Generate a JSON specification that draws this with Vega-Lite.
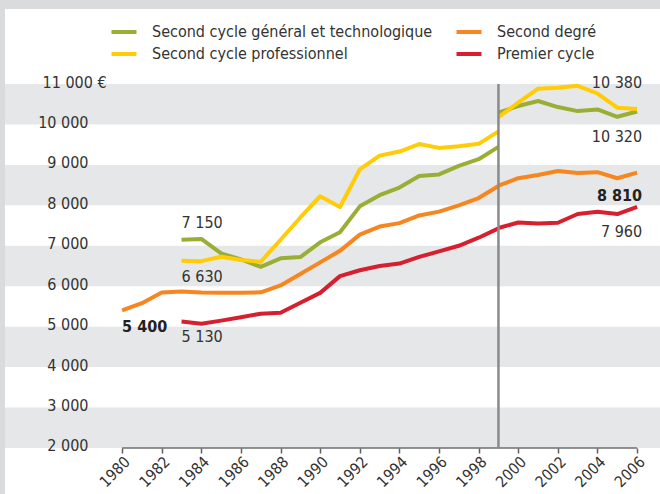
{
  "$schema": "https://vega.github.io/schema/vega-lite/v6.json",
  "autosize": {"type": "none"},
  "width": 655,
  "height": 485,
  "padding": {"left": 5, "top": 9, "right": 0, "bottom": 0},
  "background": "#dadbdd",
  "view": {"fill": "#ffffff", "stroke": null},
  "config": {
    "font": "Liberation Sans Narrow, DejaVu Sans Condensed, Roboto Condensed, Roboto, sans-serif",
    "text": {"font": "Liberation Sans Narrow, DejaVu Sans Condensed, Roboto Condensed, Roboto, sans-serif", "fontSize": 16, "color": "#333333"}
  },
  "datasets": {
    "bandes": [
      {"bas": 10000, "haut": 11000},
      {"bas": 8000, "haut": 9000},
      {"bas": 6000, "haut": 7000},
      {"bas": 4000, "haut": 5000},
      {"bas": 2000, "haut": 3000}
    ],
    "series": [
      {"serie": "Second cycle général et technologique", "periode": "avant", "annee": 1983, "valeur": 7150},
      {"serie": "Second cycle général et technologique", "periode": "avant", "annee": 1984, "valeur": 7170},
      {"serie": "Second cycle général et technologique", "periode": "avant", "annee": 1985, "valeur": 6810},
      {"serie": "Second cycle général et technologique", "periode": "avant", "annee": 1986, "valeur": 6665},
      {"serie": "Second cycle général et technologique", "periode": "avant", "annee": 1987, "valeur": 6480},
      {"serie": "Second cycle général et technologique", "periode": "avant", "annee": 1988, "valeur": 6690},
      {"serie": "Second cycle général et technologique", "periode": "avant", "annee": 1989, "valeur": 6720},
      {"serie": "Second cycle général et technologique", "periode": "avant", "annee": 1990, "valeur": 7085},
      {"serie": "Second cycle général et technologique", "periode": "avant", "annee": 1991, "valeur": 7335},
      {"serie": "Second cycle général et technologique", "periode": "avant", "annee": 1992, "valeur": 7975},
      {"serie": "Second cycle général et technologique", "periode": "avant", "annee": 1993, "valeur": 8250},
      {"serie": "Second cycle général et technologique", "periode": "avant", "annee": 1994, "valeur": 8440},
      {"serie": "Second cycle général et technologique", "periode": "avant", "annee": 1995, "valeur": 8725},
      {"serie": "Second cycle général et technologique", "periode": "avant", "annee": 1996, "valeur": 8765},
      {"serie": "Second cycle général et technologique", "periode": "avant", "annee": 1997, "valeur": 8975},
      {"serie": "Second cycle général et technologique", "periode": "avant", "annee": 1998, "valeur": 9140},
      {"serie": "Second cycle général et technologique", "periode": "avant", "annee": 1999, "valeur": 9445},
      {"serie": "Second cycle général et technologique", "periode": "apres", "annee": 1999, "valeur": 10290},
      {"serie": "Second cycle général et technologique", "periode": "apres", "annee": 2000, "valeur": 10455},
      {"serie": "Second cycle général et technologique", "periode": "apres", "annee": 2001, "valeur": 10580},
      {"serie": "Second cycle général et technologique", "periode": "apres", "annee": 2002, "valeur": 10430},
      {"serie": "Second cycle général et technologique", "periode": "apres", "annee": 2003, "valeur": 10330},
      {"serie": "Second cycle général et technologique", "periode": "apres", "annee": 2004, "valeur": 10370},
      {"serie": "Second cycle général et technologique", "periode": "apres", "annee": 2005, "valeur": 10190},
      {"serie": "Second cycle général et technologique", "periode": "apres", "annee": 2006, "valeur": 10320},

      {"serie": "Second cycle professionnel", "periode": "avant", "annee": 1983, "valeur": 6630},
      {"serie": "Second cycle professionnel", "periode": "avant", "annee": 1984, "valeur": 6620},
      {"serie": "Second cycle professionnel", "periode": "avant", "annee": 1985, "valeur": 6730},
      {"serie": "Second cycle professionnel", "periode": "avant", "annee": 1986, "valeur": 6650},
      {"serie": "Second cycle professionnel", "periode": "avant", "annee": 1987, "valeur": 6605},
      {"serie": "Second cycle professionnel", "periode": "avant", "annee": 1988, "valeur": 7150},
      {"serie": "Second cycle professionnel", "periode": "avant", "annee": 1989, "valeur": 7700},
      {"serie": "Second cycle professionnel", "periode": "avant", "annee": 1990, "valeur": 8225},
      {"serie": "Second cycle professionnel", "periode": "avant", "annee": 1991, "valeur": 7960},
      {"serie": "Second cycle professionnel", "periode": "avant", "annee": 1992, "valeur": 8890},
      {"serie": "Second cycle professionnel", "periode": "avant", "annee": 1993, "valeur": 9230},
      {"serie": "Second cycle professionnel", "periode": "avant", "annee": 1994, "valeur": 9330},
      {"serie": "Second cycle professionnel", "periode": "avant", "annee": 1995, "valeur": 9515},
      {"serie": "Second cycle professionnel", "periode": "avant", "annee": 1996, "valeur": 9420},
      {"serie": "Second cycle professionnel", "periode": "avant", "annee": 1997, "valeur": 9460},
      {"serie": "Second cycle professionnel", "periode": "avant", "annee": 1998, "valeur": 9520},
      {"serie": "Second cycle professionnel", "periode": "avant", "annee": 1999, "valeur": 9830},
      {"serie": "Second cycle professionnel", "periode": "apres", "annee": 1999, "valeur": 10180},
      {"serie": "Second cycle professionnel", "periode": "apres", "annee": 2000, "valeur": 10540},
      {"serie": "Second cycle professionnel", "periode": "apres", "annee": 2001, "valeur": 10885},
      {"serie": "Second cycle professionnel", "periode": "apres", "annee": 2002, "valeur": 10905},
      {"serie": "Second cycle professionnel", "periode": "apres", "annee": 2003, "valeur": 10955},
      {"serie": "Second cycle professionnel", "periode": "apres", "annee": 2004, "valeur": 10765},
      {"serie": "Second cycle professionnel", "periode": "apres", "annee": 2005, "valeur": 10415},
      {"serie": "Second cycle professionnel", "periode": "apres", "annee": 2006, "valeur": 10380},

      {"serie": "Second degré", "periode": "avant", "annee": 1980, "valeur": 5400},
      {"serie": "Second degré", "periode": "avant", "annee": 1981, "valeur": 5580},
      {"serie": "Second degré", "periode": "avant", "annee": 1982, "valeur": 5845},
      {"serie": "Second degré", "periode": "avant", "annee": 1983, "valeur": 5870},
      {"serie": "Second degré", "periode": "avant", "annee": 1984, "valeur": 5845},
      {"serie": "Second degré", "periode": "avant", "annee": 1985, "valeur": 5840},
      {"serie": "Second degré", "periode": "avant", "annee": 1986, "valeur": 5840},
      {"serie": "Second degré", "periode": "avant", "annee": 1987, "valeur": 5850},
      {"serie": "Second degré", "periode": "avant", "annee": 1988, "valeur": 6020},
      {"serie": "Second degré", "periode": "avant", "annee": 1989, "valeur": 6300},
      {"serie": "Second degré", "periode": "avant", "annee": 1990, "valeur": 6590},
      {"serie": "Second degré", "periode": "avant", "annee": 1991, "valeur": 6875},
      {"serie": "Second degré", "periode": "avant", "annee": 1992, "valeur": 7275},
      {"serie": "Second degré", "periode": "avant", "annee": 1993, "valeur": 7475},
      {"serie": "Second degré", "periode": "avant", "annee": 1994, "valeur": 7560},
      {"serie": "Second degré", "periode": "avant", "annee": 1995, "valeur": 7750},
      {"serie": "Second degré", "periode": "avant", "annee": 1996, "valeur": 7845},
      {"serie": "Second degré", "periode": "avant", "annee": 1997, "valeur": 8000},
      {"serie": "Second degré", "periode": "avant", "annee": 1998, "valeur": 8180},
      {"serie": "Second degré", "periode": "avant", "annee": 1999, "valeur": 8480},
      {"serie": "Second degré", "periode": "apres", "annee": 1999, "valeur": 8490},
      {"serie": "Second degré", "periode": "apres", "annee": 2000, "valeur": 8670},
      {"serie": "Second degré", "periode": "apres", "annee": 2001, "valeur": 8750},
      {"serie": "Second degré", "periode": "apres", "annee": 2002, "valeur": 8850},
      {"serie": "Second degré", "periode": "apres", "annee": 2003, "valeur": 8800},
      {"serie": "Second degré", "periode": "apres", "annee": 2004, "valeur": 8820},
      {"serie": "Second degré", "periode": "apres", "annee": 2005, "valeur": 8670},
      {"serie": "Second degré", "periode": "apres", "annee": 2006, "valeur": 8810},

      {"serie": "Premier cycle", "periode": "avant", "annee": 1983, "valeur": 5130},
      {"serie": "Premier cycle", "periode": "avant", "annee": 1984, "valeur": 5070},
      {"serie": "Premier cycle", "periode": "avant", "annee": 1985, "valeur": 5150},
      {"serie": "Premier cycle", "periode": "avant", "annee": 1986, "valeur": 5235},
      {"serie": "Premier cycle", "periode": "avant", "annee": 1987, "valeur": 5320},
      {"serie": "Premier cycle", "periode": "avant", "annee": 1988, "valeur": 5345},
      {"serie": "Premier cycle", "periode": "avant", "annee": 1989, "valeur": 5590},
      {"serie": "Premier cycle", "periode": "avant", "annee": 1990, "valeur": 5835},
      {"serie": "Premier cycle", "periode": "avant", "annee": 1991, "valeur": 6250},
      {"serie": "Premier cycle", "periode": "avant", "annee": 1992, "valeur": 6395},
      {"serie": "Premier cycle", "periode": "avant", "annee": 1993, "valeur": 6500},
      {"serie": "Premier cycle", "periode": "avant", "annee": 1994, "valeur": 6560},
      {"serie": "Premier cycle", "periode": "avant", "annee": 1995, "valeur": 6725},
      {"serie": "Premier cycle", "periode": "avant", "annee": 1996, "valeur": 6860},
      {"serie": "Premier cycle", "periode": "avant", "annee": 1997, "valeur": 7000},
      {"serie": "Premier cycle", "periode": "avant", "annee": 1998, "valeur": 7200},
      {"serie": "Premier cycle", "periode": "avant", "annee": 1999, "valeur": 7430},
      {"serie": "Premier cycle", "periode": "apres", "annee": 1999, "valeur": 7440},
      {"serie": "Premier cycle", "periode": "apres", "annee": 2000, "valeur": 7575},
      {"serie": "Premier cycle", "periode": "apres", "annee": 2001, "valeur": 7550},
      {"serie": "Premier cycle", "periode": "apres", "annee": 2002, "valeur": 7570},
      {"serie": "Premier cycle", "periode": "apres", "annee": 2003, "valeur": 7785},
      {"serie": "Premier cycle", "periode": "apres", "annee": 2004, "valeur": 7840},
      {"serie": "Premier cycle", "periode": "apres", "annee": 2005, "valeur": 7785},
      {"serie": "Premier cycle", "periode": "apres", "annee": 2006, "valeur": 7960}
    ],
    "etiquettes": [
      {"annee": 1983, "valeur": 7150, "texte": "7 150", "cote": "gauche", "sens": "haut", "gras": false},
      {"annee": 1983, "valeur": 6630, "texte": "6 630", "cote": "gauche", "sens": "bas", "gras": false},
      {"annee": 1983, "valeur": 5130, "texte": "5 130", "cote": "gauche", "sens": "bas", "gras": false},
      {"annee": 1980, "valeur": 5400, "texte": "5 400", "cote": "gauche", "sens": "bas", "gras": true},
      {"annee": 2006, "valeur": 10380, "texte": "10 380", "cote": "droite", "sens": "haut", "gras": false},
      {"annee": 2006, "valeur": 10320, "texte": "10 320", "cote": "droite", "sens": "bas", "gras": false},
      {"annee": 2006, "valeur": 8810, "texte": "8 810", "cote": "droite", "sens": "bas", "gras": true},
      {"annee": 2006, "valeur": 7960, "texte": "7 960", "cote": "droite", "sens": "bas", "gras": false}
    ]
  },
  "layer": [
    {
      "data": {"name": "bandes"},
      "mark": {"type": "rect", "color": "#e6e7e8"},
      "encoding": {
        "y": {
          "field": "bas", "type": "quantitative",
          "scale": {"domain": [862.6, 12854.5], "nice": false, "zero": false},
          "axis": {
            "orient": "left", "offset": -83, "values": [2000, 3000, 4000, 5000, 6000, 7000, 8000, 9000, 10000, 11000],
            "labelExpr": "datum.value == 11000 ? '11 000 €' : replace(format(datum.value, ','), ',', ' ')",
            "domain": false, "ticks": false, "tickSize": 0, "grid": false,
            "labelPadding": {"condition": {"test": "datum.value == 11000", "value": 46}, "value": 0},
            "labelAlign": {"condition": {"test": "datum.value == 11000", "value": "left"}, "value": "right"},
            "labelBaseline": "middle", "labelOffset": -2,
            "labelFontSize": 16, "labelColor": "#333333", "title": null, "zindex": 1
          }
        },
        "y2": {"field": "haut"}
      }
    },
    {
      "data": {"name": "series"},
      "mark": {"type": "line", "strokeJoin": "round", "strokeCap": "butt"},
      "encoding": {
        "x": {
          "field": "annee", "type": "quantitative",
          "scale": {"domain": [1974.088, 2007.156], "nice": false, "zero": false},
          "axis": {
            "orient": "bottom", "offset": -46,
            "values": [1980, 1981, 1982, 1983, 1984, 1985, 1986, 1987, 1988, 1989, 1990, 1991, 1992, 1993, 1994, 1995, 1996, 1997, 1998, 1999, 2000, 2001, 2002, 2003, 2004, 2005, 2006],
            "labelExpr": "datum.value % 2 == 0 ? '' + datum.value : ''",
            "domain": false, "grid": false, "tickSize": 5, "tickWidth": 1.5, "tickColor": "#5f5f5f",
            "labelAngle": -45, "labelAlign": "right", "labelBaseline": "middle", "labelPadding": 6, "labelOffset": 5,
            "labelFontSize": 15.5, "labelColor": "#333333", "labelOverlap": false, "labelFlush": false,
            "title": null, "zindex": 1
          }
        },
        "y": {"field": "valeur", "type": "quantitative", "axis": {"title": null}},
        "detail": {"field": "periode"},
        "color": {
          "field": "serie", "type": "nominal",
          "scale": {
            "domain": ["Second cycle général et technologique", "Second cycle professionnel", "Second degré", "Premier cycle"],
            "range": ["#9aae36", "#ffcc05", "#f6861f", "#d62030"]
          },
          "legend": {
            "orient": "none", "legendX": 107, "legendY": 11, "columns": 2, "title": null,
            "symbolType": "M-1.25,0H1.25", "symbolStrokeWidth": 5, "symbolSize": 400,
            "labelFontSize": 16, "labelColor": "#333333", "labelOffset": 16, "labelLimit": 400,
            "columnPadding": 15, "rowPadding": 2, "padding": 0
          }
        },
        "strokeWidth": {
          "field": "serie", "type": "nominal",
          "scale": {
            "domain": ["Second cycle général et technologique", "Second cycle professionnel", "Second degré", "Premier cycle"],
            "range": [4, 4, 5, 4]
          },
          "legend": null
        }
      }
    },
    {
      "data": {"values": [{}]},
      "mark": {"type": "rule", "color": "#6f6f6f", "strokeWidth": 1.5},
      "encoding": {
        "x": {"datum": 1980, "type": "quantitative", "axis": {"title": null}},
        "x2": {"datum": 2006},
        "y": {"datum": 2000, "type": "quantitative", "axis": {"title": null}}
      }
    },
    {
      "data": {"values": [{}]},
      "mark": {"type": "rule", "color": "#8a8a8a", "strokeWidth": 2.5},
      "encoding": {
        "x": {"datum": 1999, "type": "quantitative", "axis": {"title": null}},
        "y": {"datum": 2000, "type": "quantitative", "axis": {"title": null}},
        "y2": {"datum": 11000}
      }
    },
    {
      "data": {"name": "etiquettes"},
      "transform": [{"filter": "datum.cote == 'gauche' && datum.sens == 'haut'"}],
      "mark": {"type": "text", "align": "left", "baseline": "middle", "dy": -17},
      "encoding": {
        "x": {"field": "annee", "type": "quantitative", "axis": {"title": null}},
        "y": {"field": "valeur", "type": "quantitative", "axis": {"title": null}},
        "text": {"field": "texte"}
      }
    },
    {
      "data": {"name": "etiquettes"},
      "transform": [{"filter": "datum.cote == 'gauche' && datum.sens == 'bas' && !datum.gras"}],
      "mark": {"type": "text", "align": "left", "baseline": "middle", "dy": 16},
      "encoding": {
        "x": {"field": "annee", "type": "quantitative", "axis": {"title": null}},
        "y": {"field": "valeur", "type": "quantitative", "axis": {"title": null}},
        "text": {"field": "texte"}
      }
    },
    {
      "data": {"name": "etiquettes"},
      "transform": [{"filter": "datum.cote == 'gauche' && datum.sens == 'bas' && datum.gras"}],
      "mark": {"type": "text", "align": "left", "baseline": "middle", "dy": 17, "fontWeight": "bold", "color": "#222222"},
      "encoding": {
        "x": {"field": "annee", "type": "quantitative", "axis": {"title": null}},
        "y": {"field": "valeur", "type": "quantitative", "axis": {"title": null}},
        "text": {"field": "texte"}
      }
    },
    {
      "data": {"name": "etiquettes"},
      "transform": [{"filter": "datum.cote == 'droite' && datum.sens == 'haut'"}],
      "mark": {"type": "text", "align": "right", "baseline": "middle", "dx": 5, "dy": -26},
      "encoding": {
        "x": {"field": "annee", "type": "quantitative", "axis": {"title": null}},
        "y": {"field": "valeur", "type": "quantitative", "axis": {"title": null}},
        "text": {"field": "texte"}
      }
    },
    {
      "data": {"name": "etiquettes"},
      "transform": [{"filter": "datum.cote == 'droite' && datum.sens == 'bas' && !datum.gras"}],
      "mark": {"type": "text", "align": "right", "baseline": "middle", "dx": 5, "dy": 25},
      "encoding": {
        "x": {"field": "annee", "type": "quantitative", "axis": {"title": null}},
        "y": {"field": "valeur", "type": "quantitative", "axis": {"title": null}},
        "text": {"field": "texte"}
      }
    },
    {
      "data": {"name": "etiquettes"},
      "transform": [{"filter": "datum.cote == 'droite' && datum.sens == 'bas' && datum.gras"}],
      "mark": {"type": "text", "align": "right", "baseline": "middle", "dx": 5, "dy": 23, "fontWeight": "bold", "color": "#222222"},
      "encoding": {
        "x": {"field": "annee", "type": "quantitative", "axis": {"title": null}},
        "y": {"field": "valeur", "type": "quantitative", "axis": {"title": null}},
        "text": {"field": "texte"}
      }
    }
  ]
}
